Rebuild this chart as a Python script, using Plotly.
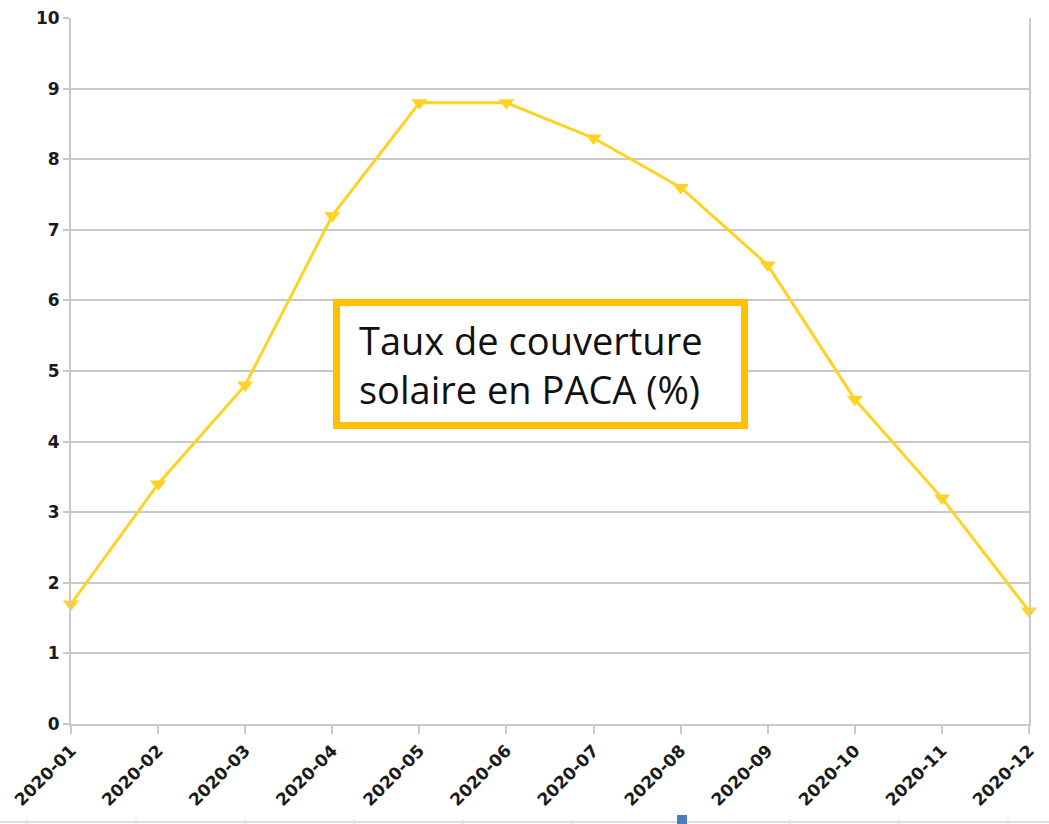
import plotly.graph_objects as go

# Monthly solar coverage rate in PACA, 2020 (%)
months = ["2020-01", "2020-02", "2020-03", "2020-04", "2020-05", "2020-06",
          "2020-07", "2020-08", "2020-09", "2020-10", "2020-11", "2020-12"]
coverage = [1.7, 3.4, 4.8, 7.2, 8.8, 8.8, 8.3, 7.6, 6.5, 4.6, 3.2, 1.6]
y_ticks = list(range(0, 11))

W, H = 1049, 824
L, R, T, B = 71, 20, 18, 100
pw, ph = W - L - R, H - T - B


def px(x):
    return (x - L) / pw


def py(y):
    return (H - B - y) / ph


grid = "#c9c9c9"
gold = "#FFD224"

fig = go.Figure()
fig.add_trace(go.Scatter(
    x=list(range(len(months))), y=coverage, mode="lines+markers",
    line=dict(color=gold, width=3),
    marker=dict(symbol="triangle-down", size=14, color=gold),
    showlegend=False, hoverinfo="skip", cliponaxis=False,
))

fig.update_layout(
    width=W, height=H,
    margin=dict(l=L, r=R, t=T, b=B, pad=0, autoexpand=False),
    paper_bgcolor="white", plot_bgcolor="white",
    font=dict(family="DejaVu Sans", color="#111111"),
    xaxis=dict(
        range=[0, len(months) - 1], tickmode="array",
        tickvals=list(range(len(months))), ticktext=months,
        tickangle=-45, automargin=False,
        tickfont=dict(size=17, family="DejaVu Sans", weight="bold", color="#1a1a1a"),
        showgrid=False, zeroline=False,
        showline=True, linecolor=grid, linewidth=2,
        ticks="outside", ticklen=8, tickcolor=grid, tickwidth=2,
    ),
    yaxis=dict(
        range=[0, 10], tickmode="array", tickvals=y_ticks, automargin=False,
        tickfont=dict(size=17, family="DejaVu Sans", weight="bold", color="#1a1a1a"),
        showgrid=True, gridcolor=grid, gridwidth=2,
        zeroline=False,
        showline=True, linecolor=grid, linewidth=2, mirror=True,
        ticks="outside", ticklen=6, tickcolor=grid, tickwidth=2,
    ),
)

# Title box inside the plot area
fig.add_shape(type="rect", xref="paper", yref="paper",
              x0=px(336.5), x1=px(744.5), y0=py(425.5), y1=py(302.5),
              line=dict(color="#FFC000", width=7), fillcolor="white", layer="above")
fig.add_annotation(xref="paper", yref="paper", x=px(357), y=py(364),
                   xanchor="left", yanchor="middle", align="left",
                   text="Taux de couverture<br>solaire en PACA (%)",
                   showarrow=False,
                   font=dict(family="Open Sans", size=38, color="#111111"))

# Strip along the bottom edge
fig.add_shape(type="line", xref="paper", yref="paper",
              x0=px(0), x1=px(W), y0=py(822), y1=py(822),
              line=dict(color="#dddddd", width=2))
for xd in [27, 136, 245, 354, 463, 572, 790, 899, 1008]:
    fig.add_shape(type="line", xref="paper", yref="paper",
                  x0=px(xd), x1=px(xd), y0=py(824), y1=py(819),
                  line=dict(color="#dddddd", width=1))
fig.add_shape(type="rect", xref="paper", yref="paper",
              x0=px(677), x1=px(687), y0=py(824), y1=py(815),
              line=dict(width=0), fillcolor="#4a7ebb")

fig.write_html("out.html")
